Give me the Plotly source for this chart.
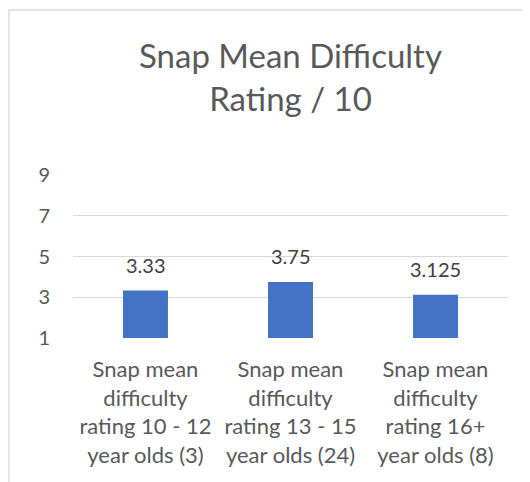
import plotly.graph_objects as go

categories = [
    "Snap mean<br>difficulty<br>rating 10 - 12<br>year olds (3)",
    "Snap mean<br>difficulty<br>rating 13 - 15<br>year olds (24)",
    "Snap mean<br>difficulty<br>rating 16+<br>year olds (8)",
]
values = [3.33, 3.75, 3.125]
value_labels = ["3.33", "3.75", "3.125"]
y_ticks = [1, 3, 5, 7, 9]
axis_floor = 1

FONT = "Lato"
GREY = "#595959"

# page body has an 8px default margin, so the figure is sized to fill the rest
FIG_W, FIG_H = 522, 474
L, R, T, B = 65, 22, 167, 144
W_PLOT = FIG_W - L - R
H_PLOT = FIG_H - T - B

fig = go.Figure(
    go.Bar(
        x=[0, 1, 2],
        y=[v - axis_floor for v in values],
        base=axis_floor,
        width=0.31,
        marker=dict(color="#4472C4", line=dict(width=0)),
    )
)

for i, (v, t) in enumerate(zip(values, value_labels)):
    fig.add_annotation(
        x=i, y=v, text=t, showarrow=False, yanchor="bottom", yshift=12,
        font=dict(family=FONT, size=20, color="#404040"),
    )

fig.add_shape(
    type="rect", xref="paper", yref="paper",
    x0=(1 - L) / W_PLOT, x1=2.0, y0=-1.5, y1=(FIG_H - B - 2) / H_PLOT,
    line=dict(color="#D9D9D9", width=1.3), fillcolor="rgba(0,0,0,0)", layer="below",
)

fig.update_layout(
    width=FIG_W, height=FIG_H,
    margin=dict(l=L, r=R, t=T, b=B, autoexpand=False),
    paper_bgcolor="white", plot_bgcolor="white",
    showlegend=False,
    title=dict(
        text="Snap Mean Difficulty<br>Rating / 10",
        x=0.5, xanchor="center", xref="paper",
        y=1 - 60 / FIG_H, yanchor="top",
        font=dict(family=FONT, size=33, color=GREY),
    ),
    xaxis=dict(
        tickvals=[0, 1, 2], ticktext=categories, range=[-0.5, 2.5],
        showgrid=False, showline=False, ticks="", zeroline=False,
        automargin=False, ticklabelstandoff=16,
        tickfont=dict(family=FONT, size=22, color=GREY),
    ),
    yaxis=dict(
        range=[1, 9], tickvals=y_ticks, ticktext=[str(t) for t in y_ticks],
        showgrid=True, gridcolor="#D9D9D9", gridwidth=1.3,
        zeroline=False, showline=False, ticks="",
        ticklabelstandoff=22, automargin=False,
        tickfont=dict(family=FONT, size=20, color=GREY),
    ),
)

fig.write_html("out.html")
